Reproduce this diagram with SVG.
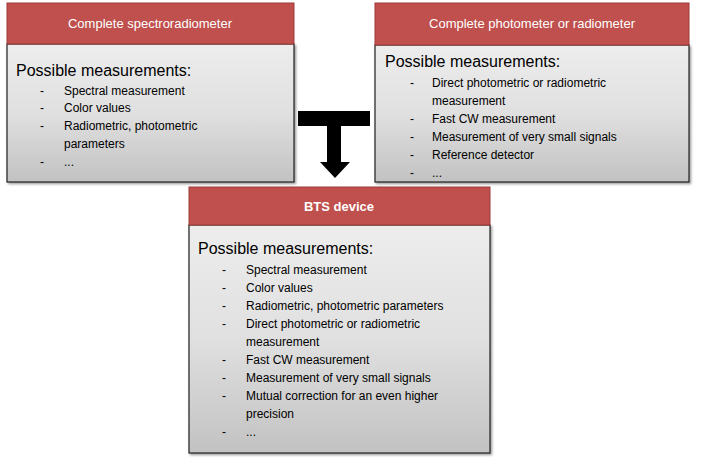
<svg xmlns="http://www.w3.org/2000/svg" width="704" height="467" viewBox="0 0 704 467">
<defs>
<linearGradient id="g" x1="0" y1="0" x2="0" y2="1"><stop offset="0" stop-color="#ededed"/><stop offset="0.5" stop-color="#e0e0e0"/><stop offset="1" stop-color="#c2c2c2"/></linearGradient>
<filter id="sh" x="-5%" y="-5%" width="110%" height="110%"><feDropShadow dx="1.5" dy="1.5" stdDeviation="1.2" flood-color="#000" flood-opacity="0.4"/></filter>
</defs>
<style>
.hd{fill:#c0504d;stroke:#9c3b38;stroke-width:1}
.bd{fill:url(#g);stroke:#222;stroke-width:1.2;filter:url(#sh)}
.ht{font-family:"Liberation Sans",Arial,sans-serif;font-size:13px;fill:#fff;text-anchor:middle}
.pm{font-family:"Liberation Sans",Arial,sans-serif;font-size:16px;fill:#000}
.it{font-family:"Liberation Sans",Arial,sans-serif;font-size:12px;fill:#000}
</style>
<g id="connectors">
<path d="M298 111H370V126H341V162H350L335 178L320 162H327V126H298Z" fill="#000"/>
</g>
<g id="spectro">
<rect class="bd" x="7" y="44" width="287" height="138"/>
<rect class="hd" x="7" y="3" width="287" height="41"/>
<text class="ht" x="150" y="28">Complete spectroradiometer</text>
<text class="pm" x="16" y="76">Possible measurements:</text>
<g class="it"><text x="40" y="95">-</text><text x="64" y="95">Spectral measurement</text>
<text x="40" y="112">-</text><text x="64" y="112">Color values</text>
<text x="40" y="130">-</text><text x="64" y="130">Radiometric, photometric</text>
<text x="64" y="148">parameters</text>
<text x="40" y="166">-</text><text x="64" y="166">...</text></g>
</g>
<g id="photometer">
<rect class="bd" x="375" y="45" width="314" height="137"/>
<rect class="hd" x="375" y="3" width="314" height="42"/>
<text class="ht" x="532" y="28">Complete photometer or radiometer</text>
<text class="pm" x="385" y="67">Possible measurements:</text>
<g class="it"><text x="410" y="87">-</text><text x="432" y="87">Direct photometric or radiometric</text>
<text x="432" y="105">measurement</text>
<text x="410" y="123">-</text><text x="432" y="123">Fast CW measurement</text>
<text x="410" y="141">-</text><text x="432" y="141">Measurement of very small signals</text>
<text x="410" y="159">-</text><text x="432" y="159">Reference detector</text>
<text x="410" y="177">-</text><text x="432" y="177">...</text></g>
</g>
<g id="bts">
<rect class="bd" x="189" y="225" width="301" height="228"/>
<rect class="hd" x="189" y="187" width="301" height="38"/>
<text class="ht" x="339" y="211" font-weight="bold">BTS device</text>
<text class="pm" x="198" y="254">Possible measurements:</text>
<g class="it"><text x="222" y="274">-</text><text x="246" y="274">Spectral measurement</text>
<text x="222" y="292">-</text><text x="246" y="292">Color values</text>
<text x="222" y="310">-</text><text x="246" y="310">Radiometric, photometric parameters</text>
<text x="222" y="328">-</text><text x="246" y="328">Direct photometric or radiometric</text>
<text x="246" y="346">measurement</text>
<text x="222" y="364">-</text><text x="246" y="364">Fast CW measurement</text>
<text x="222" y="382">-</text><text x="246" y="382">Measurement of very small signals</text>
<text x="222" y="400">-</text><text x="246" y="400">Mutual correction for an even higher</text>
<text x="246" y="418">precision</text>
<text x="222" y="436">-</text><text x="246" y="436">...</text></g>
</g>
</svg>
